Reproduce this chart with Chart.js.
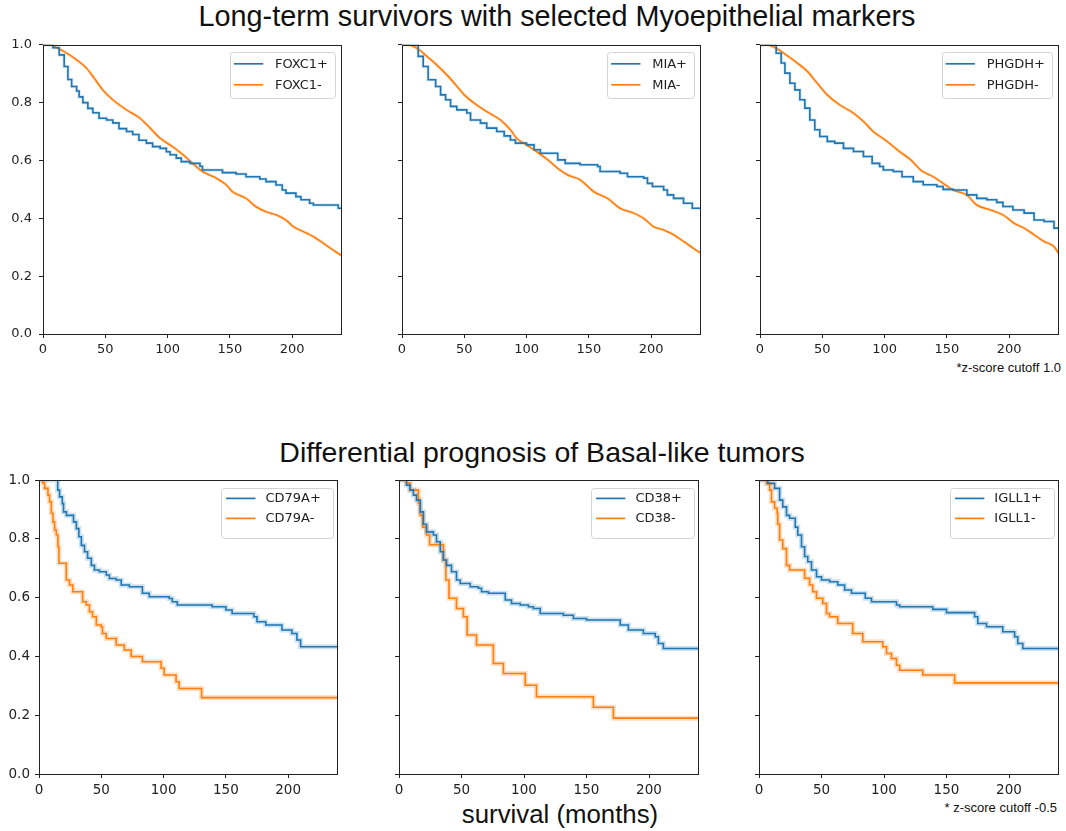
<!DOCTYPE html>
<html>
<head>
<meta charset="utf-8">
<script src="https://cdn.jsdelivr.net/npm/chart.js@4.4.1/dist/chart.umd.min.js"></script>
<style>
  body { margin: 0; background: #fff; }
  #page { position: relative; width: 1066px; height: 831px; overflow: hidden; background: #fff; }
  .panel { position: absolute; }
  .txt { position: absolute; font-family: "Liberation Sans", Arial, sans-serif; color: #111; white-space: nowrap; }
</style>
</head>
<body>
<div id="page">
  <div class="txt" style="left:0;width:1114px;text-align:center;top:0px;font-size:28.8px;">Long-term survivors with selected Myoepithelial markers</div>
  <div class="txt" style="left:0;width:1084px;text-align:center;top:436px;font-size:28.5px;">Differential prognosis of Basal-like tumors</div>
  <div class="txt" style="left:0;width:1120px;text-align:center;top:800px;font-size:25.8px;">survival (months)</div>
  <div class="txt" style="right:5px;top:360px;font-size:13px;">*z-score cutoff 1.0</div>
  <div class="txt" style="right:9px;top:800px;font-size:13px;">* z-score cutoff -0.5</div>
</div>
<script>
// x / y ticks
const monthTicks = [0, 50, 100, 150, 200];
const survTicks = [0, 0.2, 0.4, 0.6, 0.8, 1.0];

// top row: myoepithelial markers (cutoff 1.0)
const foxc1PosT = [0,8,13,17,20,23,27,29,32,36,40,45,51,56,61,67,72,77,83,88,94,99,102,107,111,118,126,128,144,155,163,174,179,187,192,195,203,207,214,217,237,240];
const foxc1PosS = [1,0.99,0.965,0.925,0.88,0.856,0.84,0.82,0.80,0.78,0.765,0.746,0.74,0.73,0.71,0.70,0.69,0.67,0.66,0.648,0.642,0.63,0.62,0.608,0.596,0.59,0.58,0.567,0.558,0.553,0.544,0.536,0.527,0.515,0.498,0.487,0.475,0.464,0.452,0.446,0.435,0.435];
const foxc1NegT = [0,5,12,19,27,35,41,48,56,67,78,86,94,104,114,120,128,139,147,152,163,171,179,187,195,201,209,217,225,233,240];
const foxc1NegS = [1,1,0.988,0.971,0.948,0.919,0.885,0.844,0.81,0.775,0.746,0.712,0.677,0.648,0.614,0.59,0.562,0.539,0.516,0.492,0.469,0.44,0.423,0.412,0.394,0.371,0.354,0.337,0.314,0.29,0.27];

const miaPosT = [0,9,13,17,21,27,31,35,39,44,52,55,63,68,76,82,87,91,100,106,111,125,131,143,157,159,175,181,194,197,201,210,213,218,226,233,240];
const miaPosS = [1,1,0.96,0.925,0.879,0.856,0.827,0.81,0.787,0.775,0.764,0.74,0.729,0.712,0.70,0.685,0.671,0.66,0.654,0.637,0.625,0.602,0.59,0.585,0.579,0.562,0.556,0.544,0.539,0.521,0.51,0.498,0.481,0.469,0.452,0.435,0.435];
const miaNegT = [0,4,12,20,28,36,43,50,58,68,79,87,92,100,108,117,125,133,143,154,165,175,186,194,202,210,218,226,234,240];
const miaNegS = [1,1,0.988,0.96,0.93,0.896,0.862,0.827,0.798,0.769,0.74,0.706,0.677,0.654,0.631,0.602,0.573,0.55,0.533,0.492,0.469,0.435,0.418,0.40,0.371,0.36,0.343,0.32,0.296,0.279];

const phgdhPosT = [0,8,13,17,20,24,28,32,36,40,44,48,54,60,67,75,83,90,96,99,107,114,123,131,142,147,155,166,174,182,190,195,203,212,220,228,236,240];
const phgdhPosS = [1,1,0.971,0.937,0.902,0.867,0.844,0.81,0.781,0.74,0.706,0.683,0.666,0.66,0.642,0.631,0.614,0.59,0.579,0.567,0.562,0.544,0.527,0.516,0.51,0.50,0.498,0.481,0.469,0.464,0.455,0.441,0.429,0.418,0.394,0.389,0.366,0.366];
const phgdhNegT = [0,5,13,21,30,38,46,54,64,75,83,91,102,112,121,129,139,147,155,166,174,185,195,204,212,220,228,236,240];
const phgdhNegS = [1,1,0.988,0.965,0.937,0.908,0.867,0.827,0.792,0.764,0.735,0.70,0.666,0.631,0.602,0.567,0.544,0.521,0.498,0.481,0.446,0.429,0.412,0.383,0.366,0.343,0.32,0.302,0.277];

// bottom row: basal-like tumors (cutoff -0.5)
const cd79aPosT = [0,15,16.5,18.7,19.7,22,27.7,30,32,34,36.5,39,42,44.5,48.5,54,56.5,62,66,72.5,83,88.5,104.5,107,111,139,150,155,172.5,175,182,195,203,207,210,240];
const cd79aPosS = [1,0.966,0.943,0.92,0.892,0.88,0.858,0.835,0.807,0.778,0.756,0.734,0.71,0.694,0.688,0.677,0.665,0.66,0.643,0.637,0.615,0.603,0.597,0.586,0.575,0.569,0.558,0.546,0.535,0.518,0.507,0.49,0.478,0.456,0.433,0.433];
const cd79aNegT = [0,3,4.5,7.2,8.5,9.9,11.2,12.5,13.9,15.2,16,21.9,24.5,27.2,35,38,40.5,43,46,50,51,54,62,68.5,74,83,98,100.5,110,112.5,130.5,240];
const cd79aNegS = [1,0.99,0.972,0.949,0.926,0.887,0.858,0.83,0.813,0.773,0.717,0.66,0.643,0.62,0.586,0.575,0.552,0.535,0.507,0.501,0.478,0.461,0.439,0.422,0.40,0.382,0.36,0.337,0.314,0.291,0.26,0.26];

const cd38PosT = [0,6,8.8,11.5,14,17,19.5,22,27.5,30,33,35.5,38,42,46,49,57,63.5,66,71.5,85,90,97,103.5,107.5,113,131.5,139.5,150,177,183.5,195.5,205,207.5,211.5,240];
const cd38PosS = [1,0.983,0.966,0.949,0.932,0.892,0.85,0.824,0.813,0.79,0.756,0.728,0.71,0.688,0.66,0.648,0.637,0.632,0.62,0.615,0.592,0.58,0.575,0.569,0.563,0.546,0.54,0.529,0.524,0.507,0.49,0.478,0.467,0.444,0.427,0.427];
const cd38NegT = [0,6,8.8,15.5,17,19,22,24.5,35.5,37.5,40,46,51.5,54.5,62,75.5,83.5,101,110,155.5,171.5,240];
const cd38NegS = [1,0.99,0.966,0.921,0.88,0.84,0.813,0.78,0.728,0.66,0.598,0.563,0.535,0.473,0.439,0.376,0.342,0.302,0.263,0.227,0.19,0.19];

const igll1PosT = [0,7,12.5,16.5,19,22,24.5,29,31,34,36.5,39,42,46,50,56.5,63,68.5,74,85,90,110,112.5,139,150,172.5,175,182,195,204.5,207,211,240];
const igll1PosS = [1,0.989,0.972,0.932,0.909,0.88,0.87,0.84,0.813,0.773,0.74,0.722,0.694,0.671,0.66,0.654,0.643,0.626,0.615,0.598,0.586,0.575,0.569,0.56,0.549,0.535,0.512,0.501,0.484,0.467,0.444,0.427,0.427];
const igll1NegT = [0,6,8.5,10,12.5,14.5,15,16.5,19,22,24.5,36.5,40.5,43,46,51,54,56.5,63,75,83,99,102,106,110,112.5,131,156.5,240];
const igll1NegS = [1,0.989,0.966,0.926,0.904,0.887,0.85,0.796,0.767,0.71,0.694,0.666,0.643,0.62,0.598,0.58,0.546,0.535,0.512,0.478,0.45,0.433,0.41,0.393,0.37,0.353,0.337,0.31,0.31];

const BLUE = '#1f77b4', ORANGE = '#ff7f0e';
const BLUE_BAND = 'rgba(31,119,180,0.22)', ORANGE_BAND = 'rgba(255,127,14,0.25)';

// legend box layouts (offsets from the plot's top-right corner)
const legTop = {right: 7, top: 7.3, first: 11.7, row: 21, h: 46, padL: 4, line: 29.3, gap: 11.7, padR: 7};
const legBottom = {right: 4.5, top: 7.7, first: 10.6, row: 20, h: 50, padL: 4.6, line: 29.4, gap: 10, padR: 12.6};

// plot area of each panel in page pixels
const panels = [
  {L:43, T:45, R:342, B:334, labels:true,  gene:'FOXC1', pos:[foxc1PosT,foxc1PosS], neg:[foxc1NegT,foxc1NegS], smooth:true,  band:3, leg:legTop,    font:13,   ypad:7},
  {L:402,T:45, R:701, B:334, labels:false, gene:'MIA',   pos:[miaPosT,miaPosS],     neg:[miaNegT,miaNegS],     smooth:true,  band:3, leg:legTop,    font:13,   ypad:7},
  {L:760,T:45, R:1059,B:334, labels:false, gene:'PHGDH', pos:[phgdhPosT,phgdhPosS], neg:[phgdhNegT,phgdhNegS], smooth:true,  band:3, leg:legTop,    font:13,   ypad:7},
  {L:39, T:480,R:338, B:774, labels:true,  gene:'CD79A', pos:[cd79aPosT,cd79aPosS], neg:[cd79aNegT,cd79aNegS], smooth:false, band:5, leg:legBottom, font:13.5, ypad:5},
  {L:399,T:480,R:699, B:774, labels:false, gene:'CD38',  pos:[cd38PosT,cd38PosS],   neg:[cd38NegT,cd38NegS],   smooth:false, band:5, leg:legBottom, font:13.5, ypad:5},
  {L:759,T:480,R:1059,B:774, labels:false, gene:'IGLL1', pos:[igll1PosT,igll1PosS], neg:[igll1NegT,igll1NegS], smooth:false, band:5, leg:legBottom, font:13.5, ypad:5}
];

const AX_W = 46, AX_H = 28, PAD_T = 8, PAD_R = 8;

function pts(pair) {
  return pair[0].map((t, i) => ({x: t, y: pair[1][i]}));
}

// frame round the plot + legend box inside top-right
const framePlugin = {
  id: 'frame',
  afterDatasetsDraw(chart) {
    const a = chart.chartArea, ctx = chart.ctx;
    ctx.save();
    ctx.strokeStyle = '#222';
    ctx.lineWidth = 1;
    ctx.strokeRect(Math.round(a.left) + 0.5, Math.round(a.top) + 0.5, Math.round(a.right - a.left) - 1, Math.round(a.bottom - a.top));
    ctx.restore();
  },
  afterDraw(chart) {
    const leg = chart.options.plugins.frame.leg;
    const a = chart.chartArea, ctx = chart.ctx;
    const items = chart.data.datasets.filter(d => !d.band);
    ctx.save();
    ctx.font = '13px "DejaVu Sans"';
    let tw = Math.max(...items.map(d => ctx.measureText(d.label).width));
    let w = leg.padL + leg.line + leg.gap + tw + leg.padR;
    let x = a.right - leg.right - w, y = a.top + leg.top;
    ctx.fillStyle = 'rgba(255,255,255,0.85)';
    ctx.strokeStyle = '#d4d4d4';
    ctx.lineWidth = 1;
    ctx.beginPath();
    ctx.roundRect(Math.round(x) + 0.5, Math.round(y) + 0.5, Math.round(w), Math.round(leg.h), 3);
    ctx.fill();
    ctx.stroke();
    items.forEach((d, i) => {
      let cy = y + leg.first + i * leg.row;
      ctx.strokeStyle = d.borderColor;
      ctx.lineWidth = 1.7;
      ctx.beginPath();
      ctx.moveTo(x + leg.padL, cy);
      ctx.lineTo(x + leg.padL + leg.line, cy);
      ctx.stroke();
      ctx.fillStyle = '#222';
      ctx.textBaseline = 'middle';
      ctx.fillText(d.label, x + leg.padL + leg.line + leg.gap, cy + 0.5);
    });
    ctx.restore();
  }
};

function makeConfig(p) {
  const posPts = pts(p.pos), negPts = pts(p.neg);
  // large groups in the top row give near-smooth curves
  const negStyle = p.smooth ? {stepped: false, cubicInterpolationMode: 'monotone'} : {stepped: true};
  const tickFont = {family: 'DejaVu Sans', size: p.font};
  return {
    type: 'line',
    data: {
      datasets: [
        {label: p.gene + '+', data: posPts, borderColor: BLUE, borderWidth: 1.6, stepped: true, pointRadius: 0, fill: false},
        Object.assign({label: p.gene + '-', data: negPts, borderColor: ORANGE, borderWidth: 1.6, pointRadius: 0, fill: false}, negStyle),
        {label: '', band: true, data: posPts, borderColor: BLUE_BAND, borderWidth: p.band, stepped: true, pointRadius: 0, fill: false},
        Object.assign({label: '', band: true, data: negPts, borderColor: ORANGE_BAND, borderWidth: p.band, pointRadius: 0, fill: false}, negStyle)
      ]
    },
    options: {
      responsive: false,
      maintainAspectRatio: false,
      animation: false,
      events: [],
      layout: {padding: {left: 0, top: PAD_T, right: PAD_R, bottom: 0}},
      plugins: {
        legend: {display: false},
        tooltip: {enabled: false},
        frame: {leg: p.leg}
      },
      scales: {
        x: {
          type: 'linear', min: 0, max: 240,
          border: {display: false},
          grid: {drawOnChartArea: false, drawTicks: true, tickLength: 4, color: '#222'},
          ticks: {font: tickFont, color: '#222', padding: 4, maxRotation: 0},
          afterBuildTicks: s => { s.ticks = monthTicks.map(v => ({value: v})); },
          afterFit: s => { s.height = AX_H; }
        },
        y: {
          type: 'linear', min: 0, max: 1,
          border: {display: false},
          grid: {drawOnChartArea: false, drawTicks: true, tickLength: 4, color: '#222'},
          ticks: {font: tickFont, color: '#222', padding: p.ypad,
                  callback: v => p.labels ? v.toFixed(1) : ''},
          afterBuildTicks: s => { s.ticks = survTicks.map(v => ({value: v})); },
          afterFit: s => { s.width = AX_W; }
        }
      }
    },
    plugins: [framePlugin]
  };
}

const page = document.getElementById('page');
panels.forEach(p => {
  const pw = p.R - p.L, ph = p.B - p.T;
  let w = pw + AX_W + PAD_R;
  let h = ph + AX_H + PAD_T;
  const cv = document.createElement('canvas');
  cv.className = 'panel';
  page.appendChild(cv);

  function build(cw, ch) {
    cv.width = cw; cv.height = ch;
    cv.style.width = cw + 'px'; cv.style.height = ch + 'px';
    return new Chart(cv.getContext('2d'), makeConfig(p));
  }

  let chart = build(w, h);
  // Chart.js may add label padding: grow the canvas so the plot area gets its size
  let a = chart.chartArea;
  const dw = pw - (a.right - a.left), dh = ph - (a.bottom - a.top);
  if (Math.abs(dw) > 0.5 || Math.abs(dh) > 0.5) {
    chart.destroy();
    chart = build(Math.round(w + dw), Math.round(h + dh));
    a = chart.chartArea;
  }
  cv.style.left = (p.L - a.left) + 'px';
  cv.style.top = (p.T - a.top) + 'px';
});
</script>
</body>
</html>
